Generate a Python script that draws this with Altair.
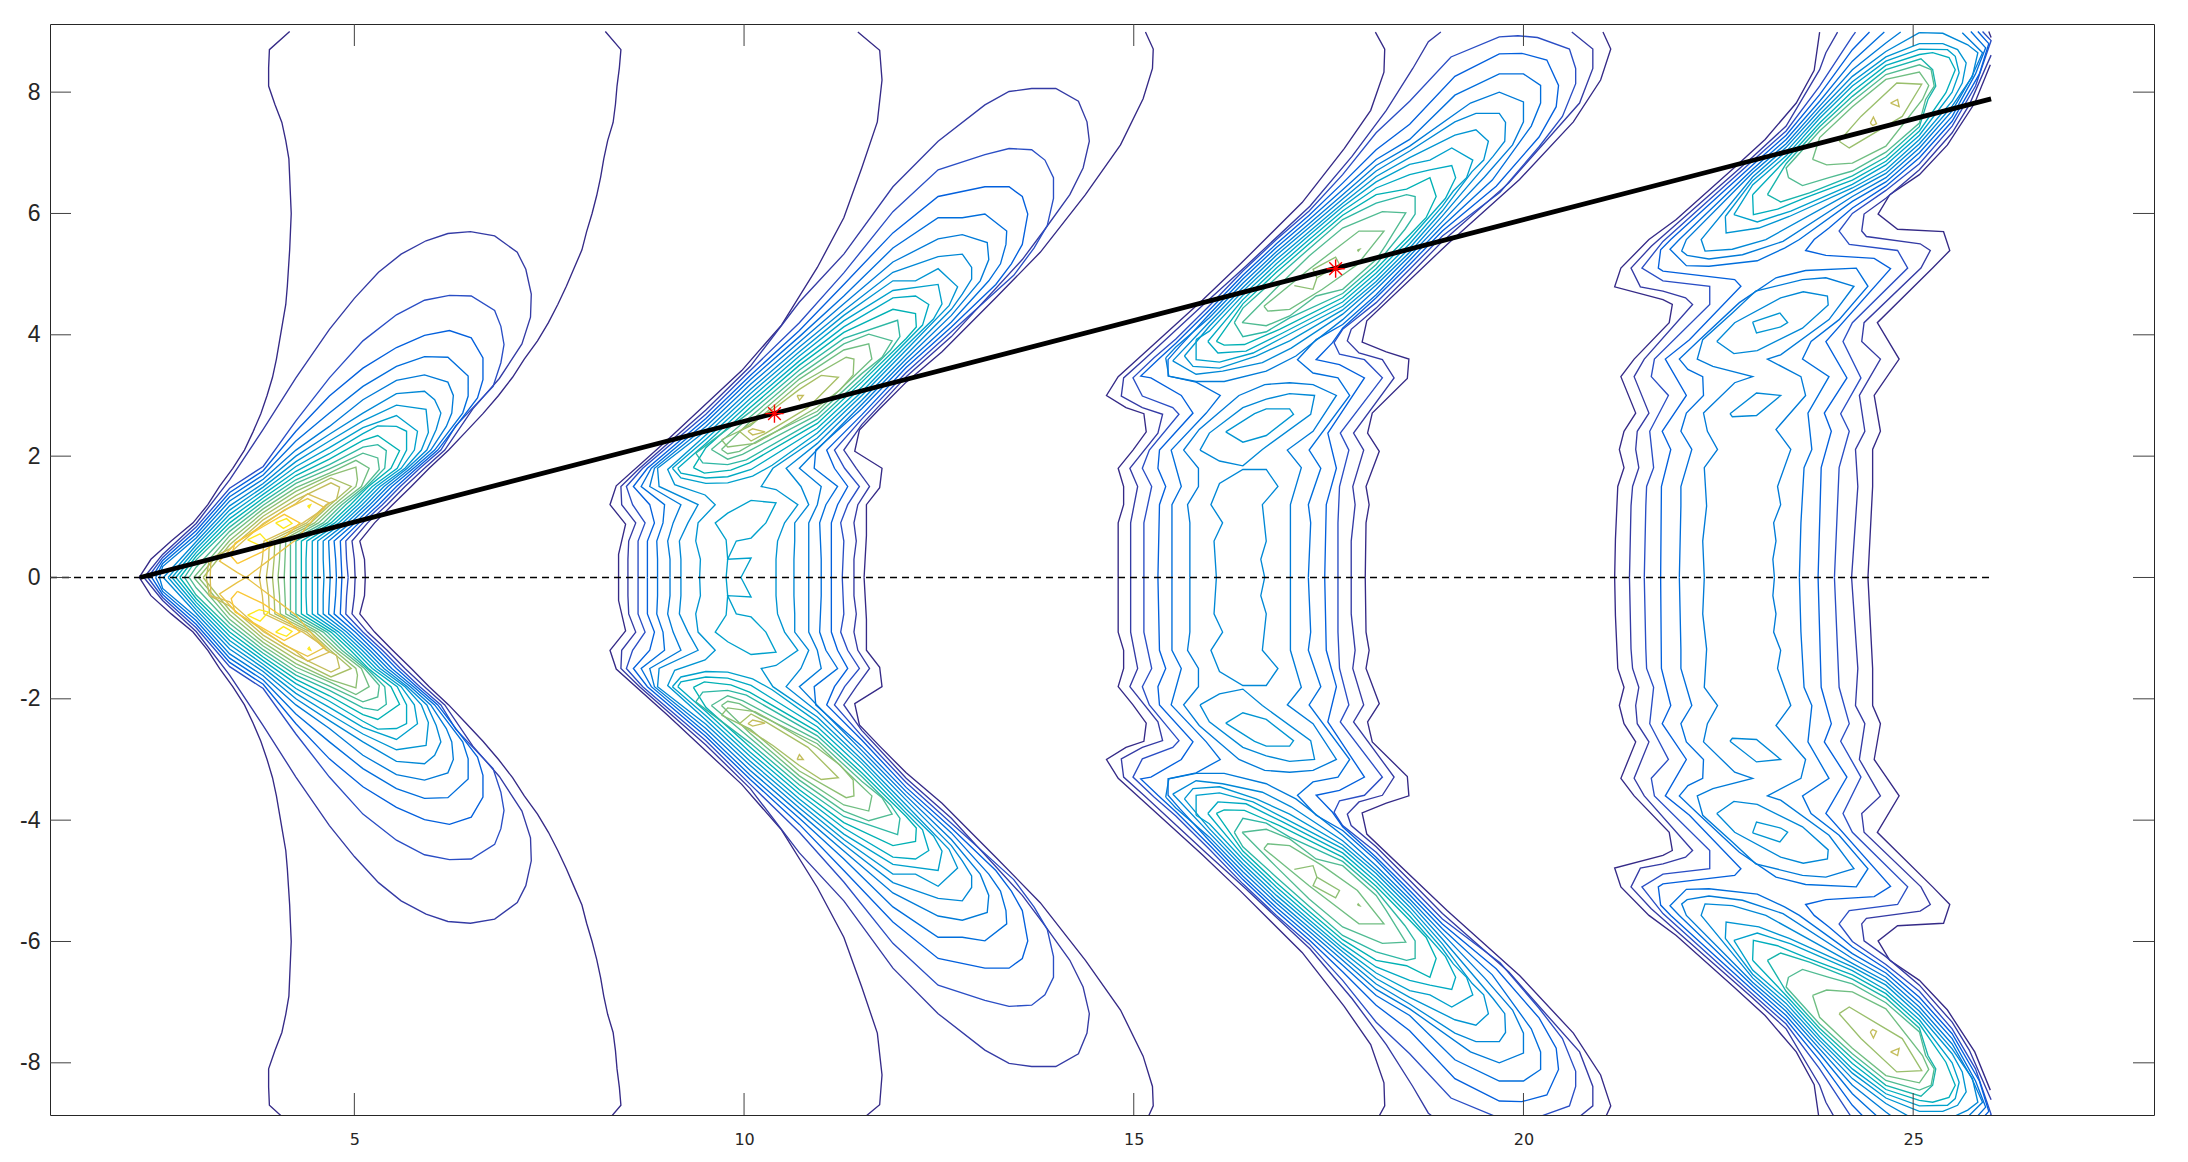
import altair as alt
import pandas as pd

alt.data_transformers.disable_max_rows()

X_TICKS = [5, 10, 15, 20, 25]
Y_TICKS = [-8, -6, -4, -2, 0, 2, 4, 6, 8]
X_RANGE = [1.095, 28.09]
Y_RANGE = [-8.86, 9.123]
PARULA = ["#352a87", "#0f5cdd", "#1481d6", "#06a4ca", "#2eb7a4", "#87bf77", "#d1bb59", "#fec832", "#f9fb0e"]
PARULA_LEVELS = [1, 3.75, 6.5, 9.25, 12, 14.75, 17.5, 20.25, 23]

RAY_X = [2.25, 26.0]
RAY_Y = [0.0, 7.89]
ZERO_X = [1.095, 26.0]
ZERO_Y = [0, 0]
STAR_X = [10.39, 17.59]
STAR_Y = [2.7, 5.09]

# Each contour: (level, [x, y, x, y, ...]) for y >= 0; the picture is symmetric about y = 0
LOBE1 = [
 (1, [2.24,0,2.39,.3,2.65,.6,2.93,.9,3.12,1.2,3.27,1.5,3.44,1.8,3.59,2.1,3.7,2.4,3.8,2.7,3.88,3,3.95,3.3,4,3.6,4.04,3.9,4.08,4.2,4.12,4.5,4.14,4.8,4.155,5.1,4.17,5.4,4.18,5.7,4.19,6,4.18,6.3,4.17,6.6,4.16,6.9,4.12,7.2,4.07,7.5,3.98,7.8,3.9,8.1,3.9,8.4,3.91,8.7,4.17,9]),
 (1, [5.14,0,5.13,.3,5.07,.6,5.26,.9,5.49,1.2,5.73,1.5,5.96,1.8,6.21,2.1,6.43,2.4,6.65,2.7,6.85,3,7.03,3.3,7.18,3.6,7.35,3.9,7.49,4.2,7.61,4.5,7.72,4.8,7.82,5.1,7.92,5.4,7.98,5.7,8.05,6,8.11,6.3,8.16,6.6,8.2,6.9,8.25,7.2,8.32,7.5,8.35,7.8,8.37,8.1,8.4,8.4,8.42,8.7,8.22,9]),
 (2, [2.3,0,2.54,.38,2.97,.89,3.4,1.61,3.83,2.44,4.25,3.29,4.68,4.09,5,4.6,5.31,5.03,5.6,5.33,5.92,5.55,6.2,5.67,6.49,5.7,6.8,5.63,7.09,5.36,7.2,5.08,7.27,4.67,7.26,4.29,7.15,3.85,6.86,3.28,6.52,2.78,6.16,2.1,5.9,1.8,5.65,1.5,5.42,1.2,5.17,.9,4.97,.6,5,.3,5.01,0]),
 (3, [2.35,0,2.54,.33,2.97,.83,3.4,1.47,3.83,1.83,4.25,2.58,4.68,3.29,5.11,3.9,5.54,4.33,5.9,4.57,6.22,4.65,6.5,4.64,6.8,4.4,6.88,4.14,6.92,3.84,6.88,3.54,6.78,3.15,6.3,2.5,6.11,2.1,5.84,1.8,5.59,1.5,5.36,1.2,5.11,.9,4.89,.6,4.9,.3,4.92,0]),
 (4, [2.4,0,2.54,.28,2.97,.77,3.4,1.4,3.83,1.76,4.25,2.41,4.68,2.99,5.11,3.45,5.54,3.79,5.9,3.99,6.22,4.07,6.5,3.95,6.65,3.62,6.65,3.26,6.58,2.96,6.07,2.1,5.8,1.8,5.54,1.5,5.31,1.2,5.06,.9,4.82,.6,4.83,.3,4.84,0]),
 (5, [2.45,0,2.54,.23,2.97,.71,3.4,1.33,3.83,1.69,4.25,2.25,4.68,2.71,5.11,3.15,5.54,3.48,5.9,3.64,6.2,3.63,6.46,3.32,6.46,2.99,6.39,2.71,6.03,2.1,5.76,1.8,5.48,1.5,5.25,1.2,5.01,.9,4.74,.6,4.76,.3,4.77,0]),
 (6, [2.5,0,2.54,.18,2.97,.65,3.4,1.26,3.83,1.62,4.25,2.1,4.68,2.49,5.11,2.93,5.54,3.25,5.9,3.34,6.2,3.22,6.27,3,6.25,2.71,6.18,2.49,5.98,2.1,5.72,1.8,5.43,1.5,5.2,1.2,4.95,.9,4.67,.6,4.68,.3,4.69,0]),
 (7, [2.55,0,2.97,.59,3.4,1.18,3.83,1.55,4.25,2,4.68,2.36,5.11,2.71,5.54,3.03,5.9,3.07,6.03,2.93,6.11,2.71,6.05,2.44,5.93,2.1,5.68,1.8,5.38,1.5,5.15,1.2,4.9,.9,4.6,.6,4.6,.3,4.61,0]),
 (8, [2.61,0,2.97,.53,3.4,1.11,3.83,1.49,4.25,1.91,4.68,2.25,5.11,2.58,5.54,2.84,5.92,2.77,5.95,2.39,5.86,2.1,5.65,1.8,5.33,1.5,5.1,1.2,4.85,.9,4.53,.6,4.53,.3,4.53,0]),
 (9, [2.66,0,2.97,.47,3.4,1.04,3.83,1.43,4.25,1.83,4.68,2.14,5.11,2.47,5.54,2.67,5.81,2.41,5.77,2.1,5.6,1.8,5.28,1.5,5.05,1.2,4.8,.9,4.46,.6,4.46,.3,4.46,0]),
 (10, [2.71,0,2.97,.41,3.4,.97,3.83,1.37,4.25,1.75,4.68,2.04,5.11,2.37,5.3,2.5,5.54,2.49,5.67,2.41,5.67,2.1,5.55,1.8,5.23,1.5,5,1.2,4.75,.9,4.39,.6,4.38,.3,4.38,0]),
 (11, [2.76,0,2.97,.35,3.4,.9,3.83,1.31,4.25,1.68,4.68,1.95,5.11,2.26,5.3,2.34,5.58,2.09,5.47,1.8,5.18,1.5,4.95,1.2,4.7,.9,4.32,.6,4.32,.3,4.32,0]),
 (12, [2.82,0,2.97,.29,3.4,.83,3.83,1.25,4.25,1.61,4.68,1.86,5.11,2.15,5.3,2.19,5.41,2.09,5.39,1.8,5.16,1.5,4.89,1.2,4.65,.9,4.25,.6,4.25,.3,4.25,0]),
 (13, [2.88,0,2.97,.17,3.4,.76,3.83,1.19,4.25,1.55,4.68,1.79,5.11,2.05,5.3,1.97,5.32,1.78,5.13,1.5,4.84,1.2,4.6,.9,4.18,.6,4.18,.3,4.18,0]),
 (14, [2.94,0,3.4,.69,3.83,1.13,4.25,1.48,4.68,1.72,5.02,1.93,5.19,1.8,5.09,1.5,4.79,1.2,4.54,.9,4.12,.6,4.11,.3,4.1,0]),
 (15, [3,0,3.4,.61,3.83,1.07,4.25,1.42,4.68,1.68,5.02,1.82,5.04,1.61,5.02,1.5,4.74,1.2,4.49,.9,4.05,.6,4.04,.3,4.02,0]),
 (16, [3.06,0,3.4,.54,3.83,1.01,4.25,1.35,4.7,1.64,4.96,1.5,4.69,1.2,4.44,.9,3.98,.6,3.97,.3,3.95,0]),
 (17, [3.1,0,3.14,.3,3.4,.47,3.83,.95,4.25,1.28,4.7,1.56,4.81,1.49,4.77,1.28,4.64,1.2,4.39,.9,3.91,.6,3.9,.3,3.87,0]),
 (18, [3.15,0,3.16,.3,3.4,.4,3.83,.89,4.25,1.22,4.4,1.38,4.68,1.23,4.57,1.1,4.34,.9,3.84,.6,3.82,.3,3.78,0]),
 (19, [3.61,0,3.5,.08,3.27,.27,3.48,.57,3.83,.87,4.1,1.11,4.4,1.3,4.62,1.15,4.5,1,4.25,.62,3.91,.29,3.61,0]),
 (20, [3.5,.23,3.42,.35,3.47,.57,3.83,.84,4.1,1.04,4.3,.9,4.12,.68,3.83,.43,3.5,.23]),
 (22, [3.63,.62,3.79,.72,3.9,.57,3.78,.53,3.63,.62]),
 (22, [3.99,.9,4.13,.97,4.2,.89,4.09,.81,3.99,.9]),
 (22, [4.4,1.18,4.44,1.2,4.42,1.15,4.4,1.18]),
]

LOBE2 = [
 (1, [8.39,0,8.39,.38,8.48,.88,8.28,1.2,8.36,1.51,9.02,2.27,9.97,3.41,10.48,4.16,10.94,5.11,11.28,5.93,11.51,6.75,11.71,7.51,11.77,8.2,11.74,8.69,11.46,8.99]),
 (1, [11.54,0,11.57,.69,11.57,1.2,11.74,1.48,11.77,1.8,11.42,2.08,11.48,2.43,11.74,2.78,12.08,3.22,12.54,3.72,13.23,4.61,13.8,5.36,14.38,6.31,14.83,7.13,15.12,7.89,15.24,8.39,15.25,8.71,15.15,8.99]),
 (2, [8.51,0,8.51,.3,8.52,.6,8.61,.9,8.43,1.2,8.42,1.5,8.66,1.8,9.51,2.76,10.08,3.48,10.71,4.54,11.28,5.33,11.91,6.44,12.49,7.19,13.09,7.79,13.4,8.01,13.69,8.06,14,8.06,14.29,7.85,14.4,7.51,14.43,7.19,14.35,6.75,14.18,6.31,13.86,5.74,13.57,5.24,12.66,3.97,12.08,3.31,11.51,2.52,11.28,2.1,11.44,1.8,11.61,1.5,11.46,1.2,11.41,.9,11.44,.6,11.41,.3,11.41,0]),
 (3, [8.64,0,8.64,.3,8.64,.6,8.73,.9,8.57,1.2,8.49,1.5,8.7,1.8,9.51,2.69,10.08,3.41,10.71,4.2,11.28,5.02,11.91,6.03,12.49,6.72,13.09,6.97,13.4,7.07,13.69,7.05,13.86,6.88,13.97,6.59,13.97,6.25,13.89,5.8,13.72,5.43,13.46,4.98,12.66,4.05,12.08,3.38,11.51,2.61,11.16,2.1,11.29,1.8,11.48,1.5,11.33,1.2,11.24,.9,11.28,.6,11.27,.3,11.26,0]),
 (4, [8.76,0,8.76,.3,8.76,.6,8.85,.9,8.79,1.2,8.58,1.5,8.76,1.8,9.51,2.62,10.08,3.33,10.71,4.07,11.28,4.83,11.91,5.68,12.49,6.28,13.09,6.44,13.4,6.44,13.57,6.28,13.64,5.99,13.57,5.49,13.43,5.17,13.23,4.83,12.66,4.13,12.08,3.46,11.51,2.68,11.06,2.1,11.16,1.8,11.33,1.5,11.2,1.2,11.12,.9,11.12,.6,11.12,.3,11.12,0]),
 (5, [8.89,0,8.89,.3,8.88,.6,8.96,.9,8.98,1.2,8.68,1.5,8.81,1.8,9.51,2.56,10.08,3.26,10.71,3.97,11.28,4.64,11.91,5.43,12.49,5.93,12.8,5.93,13.09,5.99,13.37,5.71,13.36,5.49,13.29,5.17,13.14,4.89,12.66,4.21,12.08,3.53,11.51,2.78,10.92,2.1,10.9,1.8,11.2,1.5,11.05,1.2,10.97,.9,10.98,.6,10.99,.3,10.99,0]),
 (6, [9.05,0,9.05,.3,9.02,.6,9.09,.9,9.19,1.2,8.79,1.5,8.85,1.8,9.51,2.49,10.08,3.18,10.71,3.88,11.28,4.51,11.91,5.2,12.49,5.58,12.8,5.65,13.12,5.52,13.14,5.24,13.03,4.89,12.66,4.32,12.08,3.6,11.51,2.85,10.94,2.11,10.71,1.8,10.99,1.5,10.94,1.2,10.83,.9,10.83,.6,10.83,.3,10.83,0]),
 (7, [9.19,0,9.19,.3,9.17,.6,9.28,.9,9.41,1.2,8.91,1.5,8.89,1.8,9.51,2.42,10.08,3.1,10.71,3.8,11.28,4.4,11.91,5.03,12.49,5.29,12.8,5.33,12.92,5.11,12.92,4.92,12.8,4.67,12.66,4.42,12.08,3.67,11.51,2.92,10.94,2.21,10.54,1.8,10.73,1.5,10.83,1.2,10.65,.9,10.65,.6,10.64,.3,10.64,0]),
 (8, [9.43,0,9.44,.3,9.38,.6,9.41,.9,9.63,1.2,9.5,1.36,9.11,1.53,9.02,1.78,9.51,2.35,10.08,3.03,10.71,3.72,11.28,4.32,11.91,4.89,12.2,4.89,12.49,5.09,12.74,4.79,12.63,4.48,12.08,3.75,11.51,3,10.94,2.3,10.37,1.8,10.22,1.5,10.41,1.45,10.69,1.2,10.52,.9,10.43,.6,10.41,.3,10.41,0]),
 (9, [9.08,1.8,9.51,2.28,10.08,2.95,10.71,3.65,11.28,4.23,11.91,4.73,12.49,4.83,12.54,4.51,12.43,4.26,12.08,3.82,11.51,3.06,10.94,2.38,10.36,1.85,10.11,1.67,9.79,1.56,9.51,1.55,9.19,1.64,9.08,1.8]),
 (9, [9.77,0,9.79,.3,9.77,.62,9.63,.9,9.79,1.06,10.09,1.27,10.41,1.23,10.28,.9,10.09,.65,9.9,.6,9.79,.3,10.09,.32,9.96,0]),
 (10, [9.15,1.8,9.51,2.21,10.08,2.88,10.71,3.57,11.28,4.13,11.91,4.61,12.2,4.64,12.37,4.5,12.29,4.16,11.51,3.14,10.94,2.46,10.09,1.78,9.79,1.66,9.51,1.64,9.19,1.72,9.15,1.8]),
 (11, [9.35,1.81,9.51,2.14,10.08,2.8,10.71,3.5,11.28,4.04,11.91,4.42,12.2,4.35,12.21,4.13,12.08,3.94,11.51,3.22,10.94,2.54,10.07,1.89,9.83,1.77,9.49,1.72,9.35,1.81]),
 (12, [9.38,2.05,10.08,2.73,10.71,3.42,11.28,3.94,11.97,4.24,12,3.97,11.88,3.75,11.51,3.28,10.94,2.61,10.03,1.94,9.79,1.86,9.47,1.89,9.38,2.05]),
 (13, [9.58,2.11,10.08,2.65,10.71,3.34,11.28,3.85,11.6,4.01,11.9,3.9,11.77,3.63,11.51,3.36,10.94,2.68,9.98,2.03,9.79,1.95,9.58,2.11]),
 (14, [9.71,2.11,10.08,2.57,10.71,3.27,11.28,3.75,11.6,3.85,11.64,3.6,11.51,3.44,10.94,2.74,10.2,2.27,9.94,2.08,9.79,2.04,9.71,2.11]),
 (15, [9.71,2.27,10.08,2.5,10.71,3.19,11.31,3.63,11.41,3.6,11.4,3.34,11.23,3.09,10.94,2.81,10.31,2.33,10.14,2.21,9.79,2.15,9.71,2.27]),
 (16, [9.94,2.41,10.09,2.25,10.28,2.38,10.82,2.8,11.21,3.3,10.99,3.33,10.71,3.1,10.37,2.77,9.94,2.41]),
 (17, [10.05,2.41,10.11,2.45,10.27,2.4,10.11,2.35,10.05,2.41]),
 (17, [10.68,3,10.76,3,10.71,2.92,10.68,3]),
]

LOBE3 = [
 (1, [14.8,0,14.8,.9,14.87,1.2,14.87,1.5,14.8,1.8,14.99,2.1,15.16,2.4,15.13,2.7,14.9,2.8,14.65,3,14.8,3.31,15.1,3.66,15.88,4.57,16.37,5.17,17.16,6.18,17.7,7.07,18.04,7.7,18.21,8.33,18.22,8.71,18.1,8.99]),
 (1, [17.97,0,17.98,.9,18.02,1.2,17.98,1.5,18.15,2.08,18,2.38,18.06,2.71,18.51,3.28,18.53,3.6,18.24,3.72,17.93,3.88,17.99,4.23,19.02,5.49,19.95,6.56,20.64,7.51,20.99,8.2,21.12,8.71,21.02,8.99]),
 (2, [14.96,0,14.96,.9,15.05,1.5,14.95,1.8,15.31,2.38,15.37,2.69,15.11,2.8,14.84,2.99,14.87,3.29,15.14,3.6,15.93,4.54,16.42,5.11,17.26,6.12,17.8,6.94,18.24,7.7,18.58,8.39,18.78,8.83,18.94,8.99]),
 (2, [17.79,0,17.79,.6,17.84,1.2,17.81,1.5,17.95,2.1,17.82,2.38,18.34,3.29,18.19,3.59,17.89,3.7,17.74,3.9,17.79,4.09,18.11,4.44,18.54,4.99,18.96,5.54,19.81,6.5,20.72,7.82,20.89,8.39,20.89,8.71,20.62,8.99]),
 (3, [15.13,0,15.13,.9,15.23,1.5,15.11,1.8,15.2,2.1,15.58,2.69,15.5,2.8,15.11,2.99,14.99,3.29,15.26,3.62,15.54,3.93,15.97,4.48,16.4,5.05,16.83,5.57,17.25,6.04,17.68,6.64,18.11,7.33,18.54,7.85,19.07,8.58,19.69,8.91,19.93,8.93,20.18,8.9,20.59,8.71,20.67,8.39,20.67,8.14,20.5,7.6,20.2,7.1,19.7,6.35,18.96,5.63,18.54,5.08,18.11,4.53,17.68,4.09,17.57,3.87,17.64,3.68,17.96,3.59,18.19,3.29,17.65,2.38,17.76,2.1,17.64,1.5,17.62,.9,17.62,0]),
 (4, [15.31,0,15.33,1.2,15.41,1.5,15.31,1.8,15.33,2.1,15.76,2.71,15.61,3,15.22,3.29,15.09,3.32,15.31,3.59,15.54,3.86,15.97,4.41,16.4,4.98,16.83,5.5,17.25,5.97,17.68,6.5,18.11,7.05,18.54,7.47,19.12,8.26,19.69,8.63,19.98,8.64,20.3,8.53,20.45,8.11,20.42,7.76,20.2,7.26,19.65,6.45,18.96,5.71,18.54,5.16,18.11,4.61,17.68,4.11,17.55,3.87,17.34,3.59,17.64,3.51,17.96,3.29,17.49,2.38,17.6,1.8,17.47,1.2,17.45,0]),
 (5, [15.49,0,15.49,1.2,15.61,1.5,15.48,2.1,15.93,2.71,16.11,3,15.8,3.22,15.44,3.32,15.44,3.59,15.59,3.81,15.97,4.34,16.4,4.92,16.83,5.44,17.25,5.9,17.68,6.39,18.11,6.89,18.54,7.22,19.12,7.95,19.69,8.3,20,8.3,20.22,8.11,20.22,7.82,20.1,7.44,19.6,6.55,18.96,5.79,18.54,5.23,18.11,4.66,17.68,4.17,17.34,3.92,17.1,3.59,17.3,3.37,17.62,3.29,17.77,3,17.25,2.1,17.4,1.8,17.24,1.2,17.27,.9,17.24,0]),
 (6, [15.72,0,15.72,.9,15.69,1.2,15.83,1.5,15.83,1.8,15.64,2.1,15.84,2.44,16.35,3,16.68,3.18,17,3.21,17.3,3.18,17.6,3,17.3,2.41,16.97,2.1,17.15,1.81,17.01,1.2,17.01,0]),
 (6, [15.41,3.62,15.54,3.8,15.97,4.28,16.4,4.85,16.83,5.37,17.25,5.83,17.68,6.31,18.11,6.79,18.54,7.11,19.32,7.82,19.69,8,20,7.84,20,7.51,19.86,7.13,19.5,6.6,18.96,5.87,18.54,5.3,18.11,4.75,17.68,4.25,17.08,3.65,16.7,3.4,16.16,3.23,15.8,3.23,15.45,3.32,15.41,3.62]),
 (7, [16.06,0,16.03,.6,16.14,.9,15.99,1.2,16.1,1.55,16.4,1.78,16.7,1.78,16.85,1.5,16.65,1.2,16.7,.6,16.63,.3,16.68,0]),
 (7, [15.85,2.1,15.97,2.38,16.4,2.8,16.7,2.94,17,3.03,17.32,3,17.27,2.69,16.65,2.11,16.4,1.84,16.1,1.92,15.85,2.1]),
 (7, [15.5,3.57,15.97,4.21,16.4,4.78,16.83,5.31,17.25,5.77,17.68,6.24,18.11,6.7,18.54,7.03,19.12,7.51,19.39,7.65,19.69,7.65,19.77,7.5,19.76,7.19,19.61,6.94,18.96,5.96,18.54,5.36,18.11,4.82,17.68,4.34,17.02,3.78,16.65,3.54,16.14,3.4,15.8,3.35,15.5,3.57]),
 (8, [16.18,2.4,16.55,2.7,16.7,2.78,17,2.78,17.05,2.69,16.7,2.34,16.4,2.23,16.18,2.4]),
 (8, [15.65,3.65,15.97,4.14,16.4,4.72,16.83,5.24,17.25,5.7,17.68,6.17,18.11,6.61,18.54,6.92,19.12,7.29,19.39,7.38,19.55,7.19,19.49,6.88,19.34,6.69,18.96,6.04,18.54,5.43,18.11,4.88,17.68,4.41,17,3.9,16.57,3.65,16.1,3.45,15.76,3.48,15.65,3.65]),
 (9, [15.8,3.92,15.97,4.06,16.4,4.65,16.83,5.17,17.25,5.64,17.68,6.11,18.11,6.52,18.54,6.81,18.8,6.88,19.08,7.08,19.35,6.88,19.27,6.59,19.1,6.37,18.96,6.12,18.54,5.5,18.11,4.95,17.68,4.47,16.95,3.98,16.53,3.7,16.1,3.55,15.8,3.59,15.8,3.92]),
 (10, [15.95,3.89,16.4,4.58,16.83,5.1,17.25,5.57,17.68,6.04,18.11,6.42,18.54,6.64,18.8,6.72,19.08,6.79,19.13,6.59,19,6.25,18.54,5.58,18.11,5.02,17.68,4.54,16.91,4.03,16.44,3.73,16.08,3.7,15.95,3.89]),
 (11, [16.06,3.89,16.4,4.51,16.83,5.03,17.25,5.5,17.68,5.97,18.11,6.31,18.5,6.4,18.8,6.59,18.88,6.28,18.75,5.93,18.54,5.65,18.11,5.09,17.68,4.61,16.87,4.09,16.42,3.84,16.16,3.83,16.06,3.89]),
 (12, [16.29,4.2,16.4,4.44,16.83,4.94,17.25,5.42,17.68,5.9,18.11,6.17,18.5,6.31,18.61,6.28,18.61,5.99,18.48,5.74,18.11,5.16,17.68,4.68,17,4.28,16.7,4.05,16.4,3.97,16.29,4.2]),
 (13, [16.39,4.2,16.83,4.77,17.25,5.3,17.68,5.76,18.19,6.03,18.49,6.01,18.24,5.49,18.11,5.24,17.68,4.75,17.34,4.64,17,4.31,16.7,4.15,16.39,4.2]),
 (14, [16.67,4.47,16.72,4.39,17,4.42,17.42,4.75,17.87,5.16,18.21,5.71,17.89,5.71,17.25,5.08,16.67,4.47]),
 (15, [17.06,4.81,17.3,4.75,17.35,4.94,17.3,5.08,17.59,5.28,17.64,5.16,17.35,4.94]),
 (15, [17.87,5.4,17.9,5.41,17.88,5.38,17.87,5.4]),
]

LOBE4 = [
 (1, [21.17,0,21.18,.63,21.21,1.5,21.29,1.81,21.23,2.11,21.29,2.41,21.44,2.71,21.25,3.31,21.42,3.6,21.87,4.2,21.91,4.5,21.79,4.58,21.17,4.79,21.25,5.1,21.61,5.57,21.96,5.9,22.7,6.75,23.1,7.22,23.5,7.82,23.73,8.36,23.8,8.99]),
 (1, [24.42,0,24.48,1.5,24.48,2.11,24.58,2.41,24.5,3,24.82,3.6,24.54,4.2,25.25,5.1,25.47,5.39,25.39,5.7,24.8,5.74,24.55,5.99,24.7,6.31,25.08,6.64,25.44,7.13,25.79,7.82,25.99,8.45]),
 (1, [25.97,9,26,8.9]),
 (2, [21.36,0,21.38,1.18,21.4,1.5,21.48,1.81,21.44,2.11,21.46,2.41,21.61,2.71,21.42,3.31,21.55,3.6,22.17,4.5,22.08,4.61,21.79,4.72,21.5,4.79,21.38,5.1,21.64,5.46,22.94,6.93,23.37,7.44,23.8,8.37,23.88,8.65,24.03,8.99]),
 (2, [24.21,0,24.29,1.5,24.26,2.11,24.38,2.41,24.31,3,24.58,3.6,24.34,3.89,24.37,4.2,25.1,5.1,25.22,5.39,25.09,5.5,24.4,5.62,24.34,5.71,24.37,5.99,24.65,6.25,25.08,6.72,25.5,7.33,25.72,7.79,26,8.61]),
 (3, [21.55,0,21.57,1.18,21.58,1.5,21.67,1.81,21.62,2.41,21.86,3,21.64,3.31,21.68,3.6,22.39,4.5,22.39,4.8,21.79,4.89,21.52,5.1,21.79,5.54,22.94,6.87,23.37,7.36,23.8,8.1,24.22,8.92,24.26,8.99]),
 (3, [23.99,0,24.05,1.81,24.18,2.41,24.07,2.7,24.33,3.29,24.1,3.89,24.22,4.2,24.93,5.1,24.8,5.39,24.18,5.49,24.05,5.71,24.22,6,24.65,6.38,25.08,6.82,25.5,7.44,25.8,8.1,26,8.85,25.89,9]),
 (4, [21.76,0,21.77,1.5,21.89,2.11,21.78,2.41,22.09,3,21.82,3.6,22.13,3.92,22.79,4.8,22.71,4.91,21.79,5.05,21.73,5.1,21.76,5.4,21.89,5.57,22.94,6.8,23.37,7.29,23.8,7.96,24.22,8.7,24.44,8.99]),
 (4, [23.78,0,23.82,1.81,23.95,2.41,23.86,2.71,24.15,3.29,23.88,3.89,24.71,5.09,24.5,5.26,23.88,5.31,23.62,5.39,23.73,5.57,23.92,5.76,24.22,6.09,24.65,6.45,25.08,6.92,25.5,7.52,25.85,8.3,25.97,8.8,25.83,9]),
 (5, [22,0,22.02,1.18,22.02,1.5,22.16,2.11,22.02,2.41,22.09,2.71,22.31,3,22.3,3.31,22.11,3.43,22,3.6,22.26,3.92,22.77,4.53,23.24,4.94,23.62,5.06,24.27,5.1,24.42,4.8,24.05,4.25,23.69,3.89,23.58,3.6,23.92,3.31,23.65,2.71,23.7,2.11,23.6,1.81,23.56,.9,23.54,0]),
 (5, [24.63,8.99,24.22,8.51,23.8,7.85,23.37,7.22,22.94,6.73,22,5.57,21.88,5.41,22.09,5.14,22.38,5.13,23,5.22,23.35,5.43,23.54,5.57,24.22,6.2,24.65,6.52,25.08,7,25.5,7.6,25.8,8.3,25.93,8.73,25.74,9]),
 (6, [22.32,0,22.3,.6,22.35,1.18,22.32,1.81,22.49,2.11,22.36,2.41,22.31,2.71,22.71,3.21,22.94,3.31,22.43,3.48,22.23,3.6,22.3,3.92,22.68,4.36,22.98,4.72,23.58,4.91,23.88,4.94,24.24,4.8,23.92,4.25,23.3,3.67,23.13,3.6,23.56,3.31,23.62,3,23.24,2.44,23.43,2.11,23.26,1.5,23.3,1.2,23.21,.9,23.24,.6,23.2,.3,23.22,0]),
 (6, [24.84,8.99,24.65,8.81,24.22,8.37,23.8,7.77,23.37,7.15,22.94,6.67,22.09,5.57,22.03,5.38,22.1,5.31,22.38,5.25,22.81,5.32,23.33,5.54,24.22,6.28,24.65,6.59,25.08,7.08,25.5,7.69,25.75,8.25,25.89,8.65,25.63,8.98]),
 (7, [22.48,3.89,22.71,4.2,23.3,4.61,23.59,4.71,23.9,4.64,23.91,4.49,23.58,4.11,23,3.74,22.7,3.69,22.48,3.89]),
 (7, [22.65,2.7,22.68,2.65,22.99,2.67,23.3,3,22.99,3.04,22.65,2.7]),
 (7, [25.08,8.98,24.65,8.67,24.22,8.26,23.8,7.7,23.37,7.09,22.94,6.6,22.28,5.57,22.33,5.38,22.68,5.41,23.11,5.57,24.22,6.36,24.65,6.66,25.08,7.15,25.5,7.77,25.76,8.26,25.83,8.65,25.7,8.78,25.38,8.97,25.08,8.98]),
 (8, [22.94,4.21,23.29,4.36,23.39,4.2,23.3,4.13,22.99,4.03,22.94,4.21]),
 (8, [22.59,5.95,22.6,5.68,23.02,5.76,23.41,5.95,24.22,6.42,24.65,6.72,25.08,7.22,25.5,7.85,25.63,8.15,25.68,8.48,25.57,8.7,25.38,8.8,25.08,8.8,24.65,8.58,24.22,8.17,23.8,7.63,23.37,7.02,22.94,6.54,22.59,5.95]),
 (9, [22.7,5.98,23,5.86,23.43,6.04,24.22,6.48,24.65,6.8,25.08,7.29,25.5,8,25.59,8.32,25.54,8.59,25.44,8.7,25.08,8.71,24.65,8.51,24.22,8.1,23.8,7.57,23.37,6.95,22.94,6.47,22.7,5.98]),
 (10.5, [22.94,6.31,22.95,5.98,23.26,6.07,23.62,6.26,24.22,6.55,24.65,6.86,25.08,7.36,25.42,7.99,25.54,8.37,25.46,8.57,25.25,8.65,25.08,8.62,24.65,8.44,24.22,8.01,23.8,7.49,23.37,6.89,22.94,6.31]),
 (11.5, [23.13,6.31,23.3,6.19,23.67,6.34,24.22,6.62,24.65,6.93,25.08,7.43,25.19,7.88,25.29,8.1,25.25,8.37,25.1,8.55,24.65,8.37,24.22,7.93,23.8,7.43,23.37,6.82,23.13,6.31]),
 (13, [23.4,6.59,23.58,6.46,23.92,6.59,24.22,6.7,24.65,7.01,25.08,7.49,25.16,7.88,25.27,8.1,25.23,8.37,25.08,8.45,24.65,8.29,24.22,7.85,23.8,7.36,23.37,6.75,23.4,6.59]),
 (14, [23.71,6.89,23.89,6.8,24.22,6.83,24.65,7.11,25.12,7.88,25.2,8.11,25.08,8.33,24.65,8.21,24.22,7.76,23.8,7.25,23.71,6.89]),
 (15.5, [24.05,7.19,24.18,7.08,24.86,7.6,25.11,8.13,24.79,8.15,24.33,7.6,24.05,7.19]),
 (17, [24.71,7.82,24.8,7.88,24.82,7.76,24.71,7.82]),
 (17, [24.45,7.49,24.49,7.59,24.53,7.48,24.48,7.45,24.45,7.49]),
]

rows = []
gid = 0
for lobe in (LOBE1, LOBE2, LOBE3, LOBE4):
    for level, flat in lobe:
        for sign in (1, -1):
            gid += 1
            for k in range(len(flat) // 2):
                rows.append({"x": flat[2 * k], "y": sign * flat[2 * k + 1], "level": level, "gid": gid, "ord": k})
contours = pd.DataFrame(rows)

W, H = 2104, 1091
x_scale = alt.Scale(domain=X_RANGE, nice=False, zero=False)
y_scale = alt.Scale(domain=Y_RANGE, nice=False, zero=False)

lines = alt.Chart(contours).mark_line(clip=True, strokeWidth=1.35).encode(
    x=alt.X("x:Q", scale=x_scale, axis=alt.Axis(values=X_TICKS, title=None, ticks=False, domain=False, grid=False,
                                                 labelFont="DejaVu Sans", labelFontSize=16, labelColor="#262626",
                                                 labelPadding=16, labelBaseline="top", labelExpr="'' + datum.value")),
    y=alt.Y("y:Q", scale=y_scale, axis=alt.Axis(values=Y_TICKS, title=None, ticks=False, domain=False, grid=False,
                                                 labelFont="Liberation Sans", labelFontSize=23, labelColor="#262626",
                                                 labelPadding=10, labelExpr="'' + datum.value")),
    color=alt.Color("level:Q", scale=alt.Scale(domain=PARULA_LEVELS, range=PARULA), legend=None),
    detail="gid:N",
    order="ord:Q",
)

zero = alt.Chart(pd.DataFrame({"x": ZERO_X, "y": ZERO_Y})).mark_line(color="#000000", strokeWidth=1.6, strokeDash=[7, 5]).encode(
    x=alt.X("x:Q", scale=x_scale), y=alt.Y("y:Q", scale=y_scale))
ray = alt.Chart(pd.DataFrame({"x": RAY_X, "y": RAY_Y})).mark_line(color="#000000", strokeWidth=4.8).encode(
    x=alt.X("x:Q", scale=x_scale), y=alt.Y("y:Q", scale=y_scale))
stars = alt.Chart(pd.DataFrame({"x": STAR_X, "y": STAR_Y})).mark_point(
    shape="M-1,0H1M0,-1V1M-.7,-.7L.7,.7M-.7,.7L.7,-.7", color="#ff0000", strokeWidth=1.4, size=330, filled=False, opacity=1
).encode(x=alt.X("x:Q", scale=x_scale), y=alt.Y("y:Q", scale=y_scale))

xt = pd.DataFrame({"t": X_TICKS})
yt = pd.DataFrame({"t": Y_TICKS})
tick_color = "#404040"
bottom = alt.Chart(xt).mark_rule(color=tick_color, strokeWidth=1).encode(
    x=alt.X("t:Q", scale=x_scale), y=alt.value(H), y2=alt.value(H - 22))
top = alt.Chart(xt).mark_rule(color=tick_color, strokeWidth=1).encode(
    x=alt.X("t:Q", scale=x_scale), y=alt.value(0), y2=alt.value(22))
left = alt.Chart(yt).mark_rule(color=tick_color, strokeWidth=1).encode(
    y=alt.Y("t:Q", scale=y_scale), x=alt.value(0), x2=alt.value(21))
right = alt.Chart(yt).mark_rule(color=tick_color, strokeWidth=1).encode(
    y=alt.Y("t:Q", scale=y_scale), x=alt.value(W), x2=alt.value(W - 21))

chart = alt.layer(lines, zero, ray, stars, bottom, top, left, right).properties(
    width=W, height=H, autosize=alt.AutoSizeParams(type="none"),
    padding={"left": 42, "top": 16, "right": 20, "bottom": 39},
).configure_view(stroke="#262626", strokeWidth=1)

chart.save("out.html", embed_options={"renderer": "svg", "actions": False})
